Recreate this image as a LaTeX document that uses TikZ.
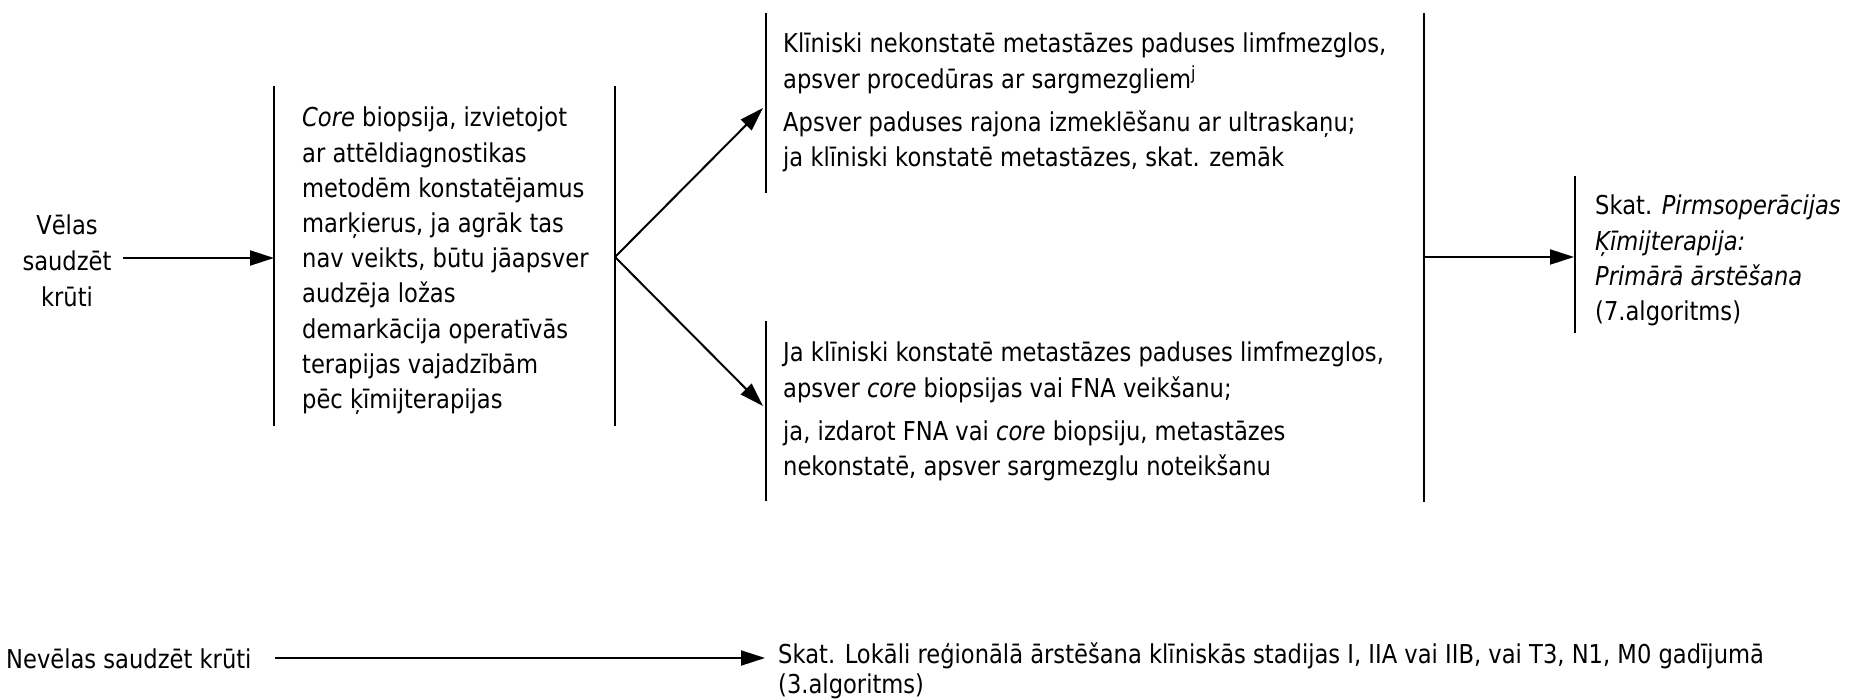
\documentclass[tikz,border=0pt]{standalone}
\usepackage{fontspec}
\setmainfont{DejaVu Sans}[FakeStretch=0.87]
\usetikzlibrary{arrows.meta}
\begin{document}
\begin{tikzpicture}[x=1pt,y=-1pt,
  txt/.style={anchor=base west, inner sep=0pt, font=\fontsize{26}{35.2}\selectfont},
  ctxt/.style={anchor=base, inner sep=0pt, font=\fontsize{26}{36}\selectfont},
  bar/.style={line width=1.3pt},
  arr/.style={line width=2pt, -{Triangle[length=24pt,width=15pt]}}]
\useasboundingbox (0,0) rectangle (1849,700);

% text blocks
\node[ctxt] (vel) at (67,235) {\begin{tabular}[t]{@{}c@{}}Vēlas\\saudzēt\\krūti\end{tabular}};
\node[txt] (core) at (302,127) {\begin{tabular}[t]{@{}l@{}}\textit{Core} biopsija, izvietojot\\ar attēldiagnostikas\\metodēm konstatējamus\\marķierus, ja agrāk tas\\nav veikts, būtu jāapsver\\audzēja ložas\\demarkācija operatīvās\\terapijas vajadzībām\\pēc ķīmijterapijas\end{tabular}};
\node[txt] (up) at (783,53) {\begin{tabular}[t]{@{}l@{}}Klīniski nekonstatē metastāzes paduses limfmezglos,\\apsver procedūras ar sargmezgliem\textsuperscript{j}\\[8pt]Apsver paduses rajona izmeklēšanu ar ultraskaņu;\\ja klīniski konstatē metastāzes, skat. zemāk\end{tabular}};
\node[txt] (low) at (783,362) {\begin{tabular}[t]{@{}l@{}}Ja klīniski konstatē metastāzes paduses limfmezglos,\\apsver \textit{core} biopsijas vai FNA veikšanu;\\[8pt]ja, izdarot FNA vai \textit{core} biopsiju, metastāzes\\nekonstatē, apsver sargmezglu noteikšanu\end{tabular}};
\node[txt] (pre) at (1595,215) {\begin{tabular}[t]{@{}l@{}}Skat. \textit{Pirmsoperācijas}\\\textit{Ķīmijterapija:}\\\textit{Primārā ārstēšana}\\(7.algoritms)\end{tabular}};
\node[txt] (nev) at (6,668) {Nevēlas saudzēt krūti};
\node[txt] (lok) at (778,663) {\begin{tabular}[t]{@{}l@{}}Skat. Lokāli reģionālā ārstēšana klīniskās stadijas I, IIA vai IIB, vai T3, N1, M0 gadījumā\\[-5pt](3.algoritms)\end{tabular}};

% bar coordinates
\coordinate (coreLt) at (274,86);
\coordinate (coreLb) at (274,426);
\coordinate (coreLin) at (274,258);
\coordinate (coreRt) at (615,86);
\coordinate (coreRb) at (615,426);
\coordinate (fork) at (615,257);
\coordinate (upt) at (766,13);
\coordinate (upb) at (766,193);
\coordinate (upin) at (763,108);
\coordinate (lowt) at (766,321);
\coordinate (lowb) at (766,501);
\coordinate (lowin) at (763,406);
\coordinate (bigt) at (1424,13);
\coordinate (bigb) at (1424,502);
\coordinate (bigout) at (1424,257);
\coordinate (pret) at (1575,176);
\coordinate (preb) at (1575,333);
\coordinate (prein) at (1574,257);
\coordinate (velout) at (123,258);
\coordinate (nevout) at (275,658);
\coordinate (lokin) at (765,658);

% bars
\draw[bar] (coreLt) -- (coreLb);
\draw[bar] (coreRt) -- (coreRb);
\draw[bar] (upt) -- (upb);
\draw[bar] (lowt) -- (lowb);
\draw[bar] (bigt) -- (bigb);
\draw[bar] (pret) -- (preb);

% connectors
\draw[arr] (velout) -- (coreLin);
\draw[arr] (fork) -- (upin);
\draw[arr] (fork) -- (lowin);
\draw[arr] (bigout) -- (prein);
\draw[arr] (nevout) -- (lokin);
\end{tikzpicture}
\end{document}
